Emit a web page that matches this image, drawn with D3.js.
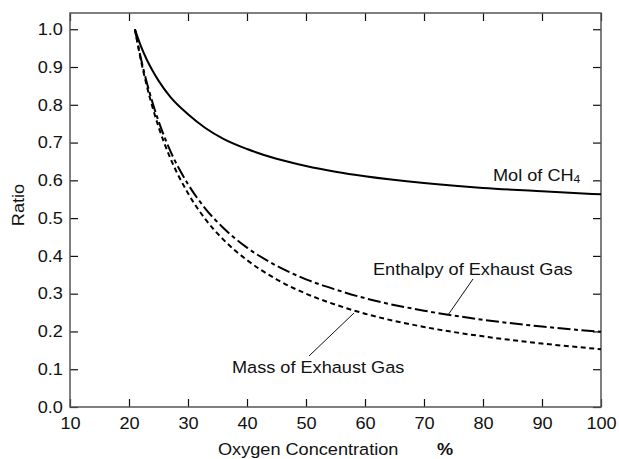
<!DOCTYPE html>
<html>
<head>
<meta charset="utf-8">
<script src="https://cdn.jsdelivr.net/npm/d3@7"></script>
<style>
  body { margin: 0; background: #fff; }
  text { font-family: "Liberation Sans", Arial, sans-serif; fill: #111; }
</style>
</head>
<body>
<div class="canvas"></div>
<script>
// oxygen concentration (%) at which each curve is read
const oxygen = [21, 22, 23, 24, 25, 27, 30, 33, 36, 40, 45, 50, 55, 60, 70, 80, 90, 100];
const molCH4 = [1.0, 0.956, 0.92, 0.89, 0.864, 0.821, 0.775, 0.738, 0.71, 0.683, 0.657, 0.638, 0.623, 0.611, 0.593, 0.58, 0.571, 0.563];
const enthalpy = [1.0, 0.924, 0.86, 0.805, 0.757, 0.678, 0.59, 0.524, 0.474, 0.422, 0.374, 0.338, 0.311, 0.288, 0.255, 0.231, 0.213, 0.199];
const massGas = [1.0, 0.919, 0.851, 0.793, 0.742, 0.659, 0.566, 0.496, 0.443, 0.389, 0.338, 0.3, 0.271, 0.247, 0.212, 0.187, 0.168, 0.153];
const xTicks = [10, 20, 30, 40, 50, 60, 70, 80, 90, 100];
const yTicks = [0, 0.1, 0.2, 0.3, 0.4, 0.5, 0.6, 0.7, 0.8, 0.9, 1.0];

const width = 619;
const height = 459;
const margin = { top: 13, right: 18, bottom: 52, left: 70 };
const graph_width = width - margin.left - margin.right;
const graph_height = height - margin.top - margin.bottom;
const stretch = "scale(1.1,1)";
const fontSize = 16.5;

const svg = d3.select(".canvas")
  .append("svg")
  .attr("width", width)
  .attr("height", height);

const graph = svg.append("g")
  .attr("transform", `translate(${margin.left}, ${margin.top})`);

const x = d3.scaleLinear().domain([10, 100]).range([0, graph_width]);
const y = d3.scaleLinear().domain([0, 1.043]).range([graph_height, 0]);

// axes with inward ticks
const xAxis = graph.append("g")
  .attr("transform", `translate(0, ${graph_height})`)
  .call(d3.axisBottom(x).tickValues(xTicks).tickSizeInner(-8).tickSizeOuter(0).tickPadding(10));
const yAxis = graph.append("g")
  .call(d3.axisLeft(y).tickValues(yTicks).tickFormat(d3.format(".1f")).tickSizeInner(-8).tickSizeOuter(0).tickPadding(6.5));
const xTop = graph.append("g")
  .call(d3.axisTop(x).tickValues(xTicks).tickFormat("").tickSizeInner(-8).tickSizeOuter(0));
const yRight = graph.append("g")
  .attr("transform", `translate(${graph_width}, 0)`)
  .call(d3.axisRight(y).tickValues(yTicks).tickFormat("").tickSizeInner(-8).tickSizeOuter(0));

[xAxis, yAxis, xTop, yRight].forEach(a => {
  a.select(".domain").remove();
  a.selectAll("line").attr("stroke", "#111").attr("stroke-width", 1.2);
  a.selectAll("text")
    .attr("font-size", fontSize)
    .attr("font-family", "Liberation Sans, Arial, sans-serif")
    .attr("fill", "#111")
    .attr("transform", stretch);
});

graph.append("rect")
  .attr("width", graph_width)
  .attr("height", graph_height)
  .attr("fill", "none")
  .attr("stroke", "#555")
  .attr("stroke-width", 1.5);

// curves
const line = d3.line()
  .x(d => x(d[0]))
  .y(d => y(d[1]))
  .curve(d3.curveMonotoneX);

const series = [
  { values: molCH4, dash: null },
  { values: enthalpy, dash: "13,3.5,4,3.5" },
  { values: massGas, dash: "5,3.5" }
];

graph.selectAll("path.curve")
  .data(series)
  .enter()
  .append("path")
  .attr("class", "curve")
  .attr("d", s => line(oxygen.map((o, i) => [o, s.values[i]])))
  .attr("fill", "none")
  .attr("stroke", "#000")
  .attr("stroke-width", 2)
  .attr("stroke-dasharray", s => s.dash);

function label(px, py, anchor, txt) {
  return svg.append("text")
    .attr("transform", `translate(${px}, ${py}) ${stretch}`)
    .attr("text-anchor", anchor)
    .attr("font-size", fontSize)
    .text(txt);
}

// curve labels
const mol = label(493, 181, "start", "Mol of CH");
mol.append("tspan").attr("font-size", 11).attr("dy", 2).text("4");
label(373, 275, "start", "Enthalpy of Exhaust Gas");
label(232, 373, "start", "Mass of Exhaust Gas");

// leader lines
svg.append("line")
  .attr("x1", 473).attr("y1", 279).attr("x2", 448).attr("y2", 315)
  .attr("stroke", "#111").attr("stroke-width", 1);
svg.append("line")
  .attr("x1", 354).attr("y1", 313).attr("x2", 309).attr("y2", 356)
  .attr("stroke", "#111").attr("stroke-width", 1);

// axis titles
label(218, 455, "start", "Oxygen Concentration");
label(445, 455, "middle", "%").attr("font-weight", "bold");
svg.append("text")
  .attr("transform", `translate(24, 205) rotate(-90) ${stretch}`)
  .attr("text-anchor", "middle")
  .attr("font-size", fontSize)
  .text("Ratio");
</script>
</body>
</html>
